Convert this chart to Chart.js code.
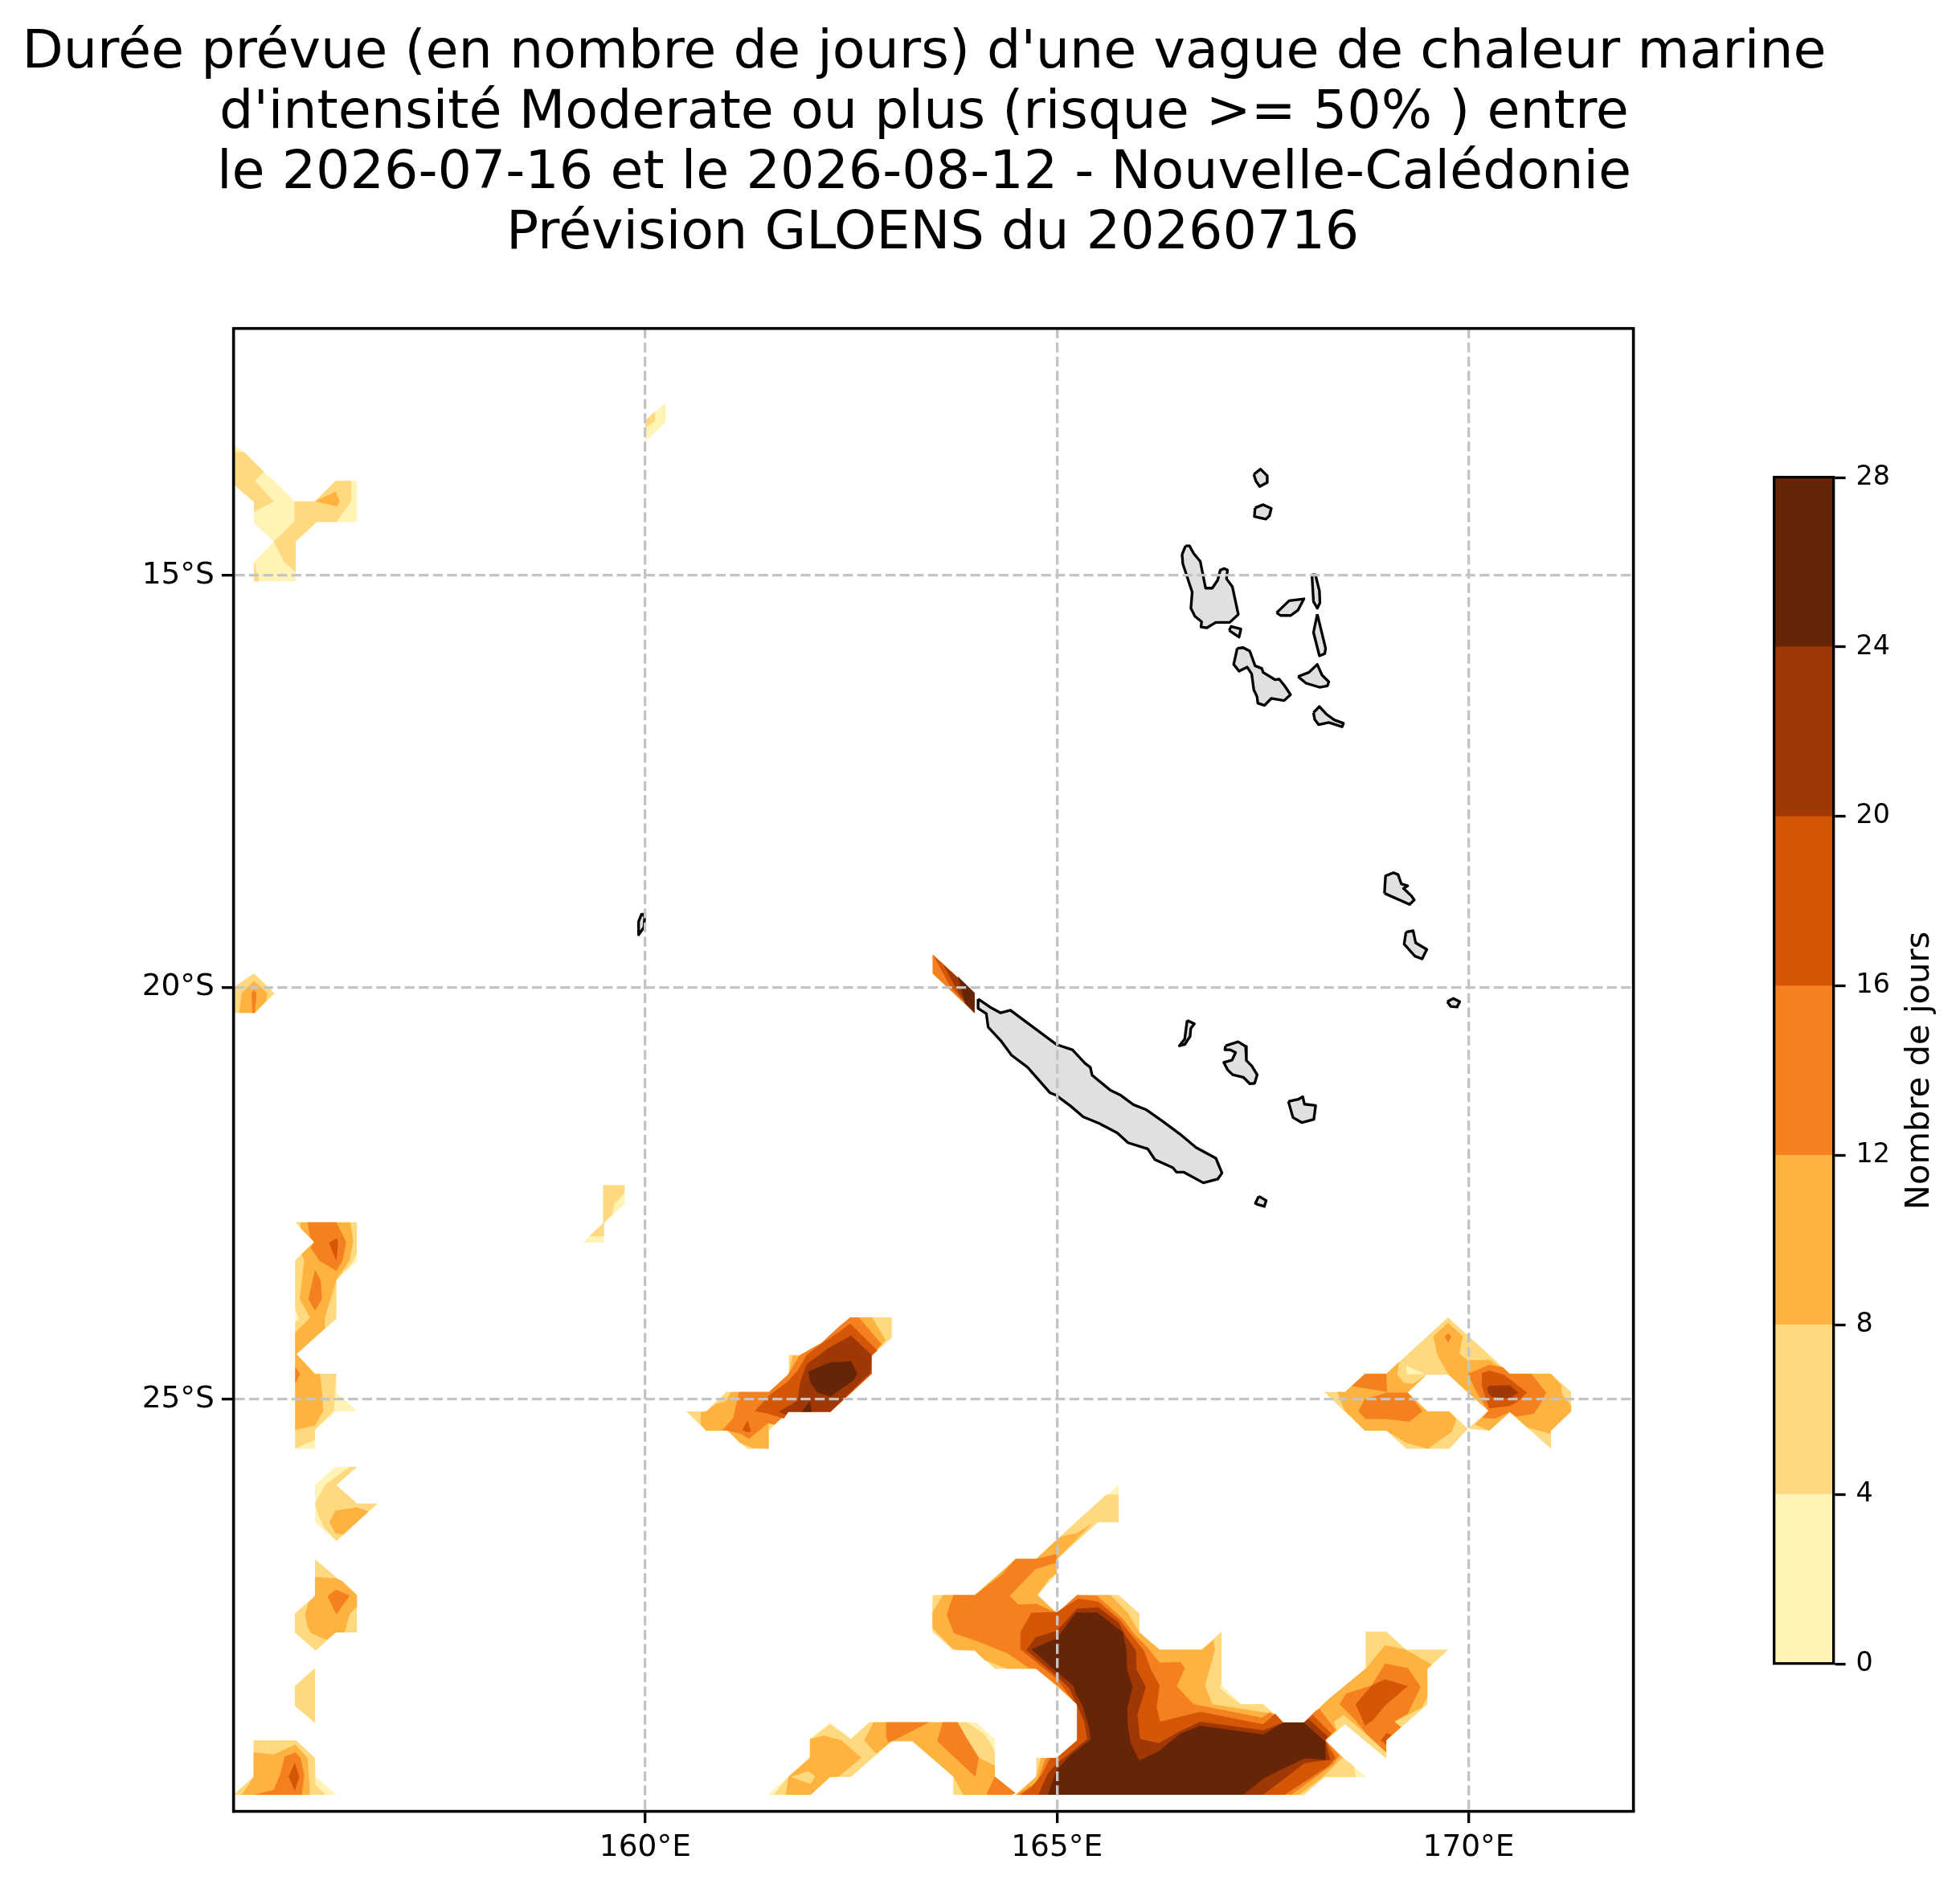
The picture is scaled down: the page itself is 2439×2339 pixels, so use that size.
<!DOCTYPE html>
<html>
<head>
<meta charset="utf-8">
<title>Vague de chaleur marine</title>
<script src="https://cdn.jsdelivr.net/npm/chart.js@4"></script>
<style>
  html, body { margin: 0; padding: 0; background: #fff; }
  canvas { position: absolute; top: 0; }
  #carte { left: 0; }
  #echelle { left: 2100px; }
</style>
</head>
<body>
<canvas id="carte" width="2300" height="2339"></canvas>
<canvas id="echelle" width="339" height="2339"></canvas>
<script>
// Titre et axes
const titleLines = [
  "Durée prévue (en nombre de jours) d'une vague de chaleur marine",
  "d'intensité Moderate ou plus (risque >= 50% ) entre",
  "le 2026-07-16 et le 2026-08-12 - Nouvelle-Calédonie",
  " Prévision GLOENS du 20260716"
];
const lonTicks = [160, 165, 170];
const lonTickLabels = ["160°E", "165°E", "170°E"];
const latTicks = [-15, -20, -25];
const latTickLabels = ["15°S", "20°S", "25°S"];
const colorbarTitle = "Nombre de jours";
const bandWidths = [4, 4, 4, 4, 4, 4, 4];
const bandColors = ["#fff3b5", "#fed97f", "#feb23f", "#f4801f", "#d55607", "#a03805", "#662506"];

// Contours [lon, lat], chaque liste contient les zones >= au seuil
const atLeast0 = [
  [[155,-13.40],[155.20,-13.57],[155.37,-13.74],[155.52,-13.88],[155.74,-14.10],[155.99,-14.10],[156.24,-13.85],[156.50,-13.85],[156.50,-14.35],[156.01,-14.35],[155.755,-14.59],[155.755,-15.07],[155.25,-15.07],[155.25,-14.83],[155.49,-14.59],[155.25,-14.36],[155.25,-14.11],[155,-13.89]],
  [[160.0,-13.12],[160.25,-12.90],[160.25,-13.14],[160.0,-13.37]],
  [[159.49,-22.40],[159.75,-22.40],[159.75,-22.63],[159.50,-22.86],[159.50,-23.10],[159.245,-23.10],[159.49,-22.86]],
  [[155.75,-22.85],[156.50,-22.85],[156.50,-23.32],[156.25,-23.55],[156.25,-24.02],[155.765,-24.45],[155.99,-24.69],[156.25,-24.69],[156.25,-24.92],[156.50,-25.14],[156.24,-25.15],[155.99,-25.37],[155.99,-25.60],[155.75,-25.60],[155.75,-23.315],[155.98,-23.09]],
  [[155.99,-26.04],[156.24,-25.82],[156.50,-25.82],[156.25,-26.04],[156.50,-26.265],[156.75,-26.265],[156.25,-26.72],[155.99,-26.49]],
  [[155,-29.80],[155.245,-29.58],[155.245,-29.14],[155.76,-29.14],[155.99,-29.35],[155.995,-29.58],[156.25,-29.80]],
  [[161.49,-29.80],[161.74,-29.577],[161.993,-29.356],[162.0,-29.122],[162.246,-28.92],[162.497,-29.122],[162.725,-28.92],[164.016,-28.92],[164.246,-29.122],[164.246,-29.577],[164.497,-29.78],[164.40,-29.80],[163.742,-29.80],[163.742,-29.577],[163.245,-29.148],[162.995,-29.148],[162.497,-29.584],[162.246,-29.584],[162.01,-29.80]],
  [[165.75,-26.04],[165.75,-26.49],[165.50,-26.49],[165.0,-26.94],[165.0,-27.11],[164.765,-27.375],[165.0,-27.60],[165.245,-27.375],[165.75,-27.375],[166.0,-27.60],[166.0,-27.83],[166.25,-28.04],[166.76,-28.04],[167.0,-27.82],[167.0,-28.47],[167.245,-28.70],[167.505,-28.70],[167.75,-28.92],[168.0,-28.92],[168.75,-28.28],[168.75,-27.82],[169.0,-27.82],[169.24,-28.04],[169.75,-28.04],[169.50,-28.27],[169.50,-28.70],[169.0,-29.14],[169.0,-29.36],[168.50,-28.945],[168.26,-29.14],[168.50,-29.37],[168.76,-29.585],[168.25,-29.585],[168.0,-29.80],[164.50,-29.80],[164.75,-29.58],[164.75,-29.35],[165.0,-29.35],[165.245,-29.14],[165.245,-28.70],[165.0,-28.49],[164.75,-28.27],[164.25,-28.27],[164.0,-28.045],[163.74,-28.045],[163.49,-27.82],[163.49,-27.375],[164.0,-27.375],[164.50,-26.94],[164.75,-26.94],[165.0,-26.70]]
];
const atLeast4 = [
  [[155,-13.50],[155.13,-13.50],[155.20,-13.57],[155.37,-13.74],[155.26,-13.85],[155.49,-14.10],[155.25,-14.23],[155.25,-14.11],[155,-13.89]],
  [[155.74,-14.10],[155.99,-14.10],[156.24,-13.85],[156.43,-13.85],[156.43,-14.10],[156.25,-14.35],[156.01,-14.35],[155.755,-14.59],[155.755,-14.96],[155.61,-14.83],[155.49,-14.59],[155.74,-14.34]],
  [[155.25,-14.83],[155.31,-15.07],[155.25,-15.07]],
  [[160.0,-13.12],[160.12,-13.01],[160.12,-13.13],[160.0,-13.21]],
  [[155,-20.0],[155.25,-19.83],[155.50,-20.07],[155.26,-20.31],[155,-20.31]],
  [[159.49,-22.40],[159.75,-22.40],[159.75,-22.495],[159.625,-22.63],[159.60,-22.755],[159.50,-22.86],[159.50,-23.02],[159.32,-23.02],[159.49,-22.86]],
  [[155.75,-22.85],[156.50,-22.85],[156.50,-23.23],[156.43,-23.36],[156.25,-23.55],[156.25,-24.02],[155.765,-24.45],[155.99,-24.69],[156.25,-24.69],[156.22,-25.14],[155.99,-25.37],[155.99,-25.49],[155.75,-25.60],[155.75,-24.06],[155.80,-24.02],[155.75,-23.91],[155.75,-23.315],[155.98,-23.09]],
  [[156.11,-26.04],[156.41,-25.82],[156.50,-25.82],[156.25,-26.04],[156.50,-26.265],[156.75,-26.265],[156.25,-26.72],[156.11,-26.57],[156.03,-26.41],[155.99,-26.265]],
  [[155.99,-26.94],[156.50,-27.375],[156.50,-27.83],[156.245,-27.83],[156.0,-28.05],[155.745,-27.83],[155.745,-27.60],[155.99,-27.385]],
  [[155.745,-28.48],[155.99,-28.26],[155.99,-28.93],[155.745,-28.72]],
  [[155,-29.80],[155.245,-29.58],[155.245,-29.14],[155.76,-29.14],[155.99,-29.35],[155.995,-29.68],[156.125,-29.80]],
  [[160.50,-25.145],[160.74,-25.145],[160.985,-24.91],[161.505,-24.91],[161.745,-24.69],[161.745,-24.46],[161.99,-24.46],[162.49,-24.005],[162.995,-24.005],[162.995,-24.25],[162.75,-24.47],[162.75,-24.69],[162.25,-25.15],[161.74,-25.15],[161.50,-25.38],[161.50,-25.60],[161.24,-25.60],[161.00,-25.38],[160.74,-25.38]],
  [[168.245,-24.91],[168.50,-24.91],[168.74,-24.69],[169.0,-24.69],[169.75,-24.005],[170.25,-24.46],[170.50,-24.69],[171.0,-24.69],[171.245,-24.91],[171.245,-25.145],[171.0,-25.38],[171.0,-25.60],[170.50,-25.155],[170.25,-25.38],[169.99,-25.355],[170.24,-25.14],[169.99,-24.916],[169.755,-24.70],[169.49,-24.70],[169.26,-24.916],[169.50,-25.145],[169.765,-25.145],[169.99,-25.355],[169.765,-25.60],[169.245,-25.60],[169.0,-25.38],[168.74,-25.38]],
  [[161.564,-29.80],[161.74,-29.577],[161.993,-29.356],[162.04,-29.10],[162.246,-28.943],[162.497,-29.122],[162.725,-28.92],[163.91,-28.92],[164.107,-29.057],[164.204,-29.187],[164.246,-29.285],[164.246,-29.577],[164.497,-29.78],[164.40,-29.80],[163.742,-29.80],[163.742,-29.577],[163.245,-29.148],[162.995,-29.148],[162.497,-29.584],[162.246,-29.584],[162.01,-29.80]],
  [[165.60,-26.157],[165.75,-26.157],[165.75,-26.49],[165.50,-26.49],[165.0,-26.94],[165.0,-27.11],[164.765,-27.375],[165.0,-27.60],[165.245,-27.375],[165.75,-27.375],[166.0,-27.60],[166.0,-27.83],[166.25,-28.04],[166.76,-28.04],[167.0,-27.82],[167.0,-28.44],[166.98,-28.51],[167.23,-28.70],[167.505,-28.70],[167.75,-28.92],[168.0,-28.92],[168.75,-28.28],[168.75,-27.82],[169.0,-27.82],[169.24,-28.04],[169.75,-28.04],[169.50,-28.27],[169.50,-28.70],[169.0,-29.14],[169.0,-29.36],[168.50,-28.945],[168.26,-29.14],[168.50,-29.37],[168.605,-29.45],[168.63,-29.585],[168.25,-29.585],[168.0,-29.80],[164.50,-29.80],[164.75,-29.58],[164.75,-29.35],[165.0,-29.35],[165.245,-29.14],[165.245,-28.70],[165.0,-28.49],[164.75,-28.27],[164.25,-28.27],[164.0,-28.045],[163.74,-28.045],[163.49,-27.82],[163.49,-27.375],[164.0,-27.375],[164.50,-26.94],[164.75,-26.94],[165.0,-26.70]]
];
const atLeast8 = [
  [[155.99,-14.10],[156.24,-13.98],[156.29,-14.10],[156.255,-14.16]],
  [[155.07,-20.31],[155.10,-20.07],[155.25,-19.92],[155.41,-20.07],[155.40,-20.16],[155.26,-20.31]],
  [[155.815,-22.85],[156.42,-22.85],[156.455,-23.08],[156.41,-23.315],[156.25,-23.55],[156.11,-24.01],[156.11,-24.14],[155.765,-24.45],[155.99,-24.69],[156.05,-24.69],[156.075,-24.90],[156.09,-25.14],[155.99,-25.32],[155.75,-25.37],[155.75,-24.19],[155.93,-24.01],[155.805,-23.78],[155.86,-23.315],[155.825,-23.24],[155.98,-23.09],[155.82,-22.93]],
  [[156.165,-26.49],[156.24,-26.35],[156.50,-26.31],[156.64,-26.36],[156.335,-26.64],[156.24,-26.63]],
  [[155.99,-27.157],[156.24,-27.17],[156.32,-27.205],[156.50,-27.375],[156.50,-27.515],[156.41,-27.61],[156.35,-27.83],[156.245,-27.83],[156.13,-27.92],[155.945,-27.84],[155.90,-27.76],[155.87,-27.61],[155.91,-27.465],[155.99,-27.385]],
  [[155.10,-29.80],[155.245,-29.58],[155.245,-29.285],[155.49,-29.31],[155.75,-29.19],[155.90,-29.35],[155.93,-29.80]],
  [[160.676,-25.155],[160.74,-25.145],[160.855,-25.056],[160.985,-25.02],[161.04,-24.91],[161.505,-24.91],[161.745,-24.69],[161.79,-24.47],[161.99,-24.46],[162.49,-24.005],[162.757,-24.005],[162.92,-24.28],[162.82,-24.397],[162.75,-24.47],[162.75,-24.69],[162.25,-25.15],[161.74,-25.15],[161.50,-25.29],[161.50,-25.60],[161.31,-25.59],[161.15,-25.53],[161.00,-25.38],[160.74,-25.38],[160.676,-25.306]],
  [[168.406,-24.91],[168.50,-24.91],[168.74,-24.69],[169.0,-24.69],[169.16,-24.54],[169.13,-24.69],[169.21,-24.80],[169.33,-24.81],[169.49,-24.70],[169.26,-24.916],[169.50,-25.145],[169.765,-25.145],[169.85,-25.24],[169.80,-25.39],[169.505,-25.60],[169.245,-25.53],[169.0,-25.38],[168.74,-25.38],[168.49,-25.13]],
  [[169.57,-24.234],[169.75,-24.07],[169.93,-24.234],[169.885,-24.445],[169.99,-24.526],[170.25,-24.517],[170.50,-24.69],[171.0,-24.69],[171.13,-24.835],[171.13,-24.93],[171.245,-25.08],[171.245,-25.145],[171.0,-25.38],[170.995,-25.42],[170.71,-25.34],[170.50,-25.155],[170.25,-25.38],[170.075,-25.306],[170.24,-25.14],[169.99,-24.916],[169.755,-24.70],[169.62,-24.46]],
  [[161.707,-29.80],[161.74,-29.584],[161.993,-29.356],[162.0,-29.122],[162.172,-29.08],[162.383,-29.138],[162.627,-29.35],[162.344,-29.584],[162.246,-29.584],[162.01,-29.80]],
  [[162.66,-29.138],[162.773,-28.92],[163.798,-28.92],[163.886,-29.09],[164.058,-29.35],[164.246,-29.447],[164.246,-29.577],[164.497,-29.78],[164.40,-29.80],[163.863,-29.80],[163.742,-29.577],[163.245,-29.148],[162.995,-29.148],[162.806,-29.30]],
  [[165.424,-26.508],[165.008,-26.937],[165.0,-27.109],[164.904,-27.18],[164.764,-27.375],[165.0,-27.596],[165.245,-27.375],[165.652,-27.375],[165.863,-27.596],[166.003,-27.83],[166.247,-28.04],[166.757,-28.04],[166.903,-27.92],[166.92,-28.035],[166.80,-28.473],[166.887,-28.70],[167.505,-28.798],[167.65,-28.814],[167.748,-28.921],[168.0,-28.921],[168.26,-29.139],[168.47,-29.344],[168.236,-29.578],[167.944,-29.80],[164.497,-29.80],[164.748,-29.58],[164.806,-29.35],[165.0,-29.35],[165.245,-29.14],[165.245,-28.70],[165.0,-28.44],[164.748,-28.27],[164.40,-28.27],[164.123,-28.165],[164.0,-28.05],[163.814,-28.045],[163.733,-28.025],[163.489,-27.775],[163.489,-27.58],[163.619,-27.375],[164.003,-27.375],[164.328,-27.093],[164.497,-26.937],[164.748,-26.937],[165.0,-26.703],[165.066,-26.66],[165.245,-26.622]],
  [[168.0,-28.921],[168.301,-28.636],[168.757,-28.262],[168.984,-27.986],[169.228,-28.035],[169.553,-28.22],[169.498,-28.272],[169.498,-28.619],[169.423,-28.749],[169.098,-28.912],[169.179,-28.977],[169.0,-29.139],[169.0,-29.285],[168.692,-29.009],[168.48,-28.83],[168.366,-28.912],[168.399,-29.025],[168.26,-29.139]]
];
const atLeast12 = [
  [[155.22,-20.07],[155.25,-20.03],[155.28,-20.07],[155.26,-20.31],[155.23,-20.31]],
  [[155.90,-22.85],[156.25,-22.85],[156.37,-23.09],[156.325,-23.315],[156.25,-23.44],[156.04,-23.315],[155.94,-23.16],[155.98,-23.09],[155.93,-23.03]],
  [[155.99,-23.43],[156.06,-23.55],[156.075,-23.78],[155.99,-23.925],[155.91,-23.78]],
  [[155.75,-24.61],[155.81,-24.69],[155.75,-24.81]],
  [[156.14,-27.39],[156.245,-27.31],[156.415,-27.38],[156.25,-27.61]],
  [[155.245,-29.80],[155.49,-29.74],[155.57,-29.545],[155.62,-29.34],[155.75,-29.285],[155.815,-29.35],[155.86,-29.56],[155.83,-29.80]],
  [[160.94,-25.37],[161.07,-25.225],[161.115,-25.014],[161.14,-24.91],[161.505,-24.91],[161.73,-24.705],[161.88,-24.46],[162.14,-24.315],[162.35,-24.12],[162.49,-24.005],[162.595,-24.005],[162.87,-24.33],[162.75,-24.47],[162.75,-24.69],[162.25,-25.15],[161.74,-25.15],[161.57,-25.306],[161.49,-25.29],[161.26,-25.48],[161.165,-25.42],[161.00,-25.38]],
  [[168.58,-24.84],[168.74,-24.69],[169.0,-24.69],[169.01,-24.91]],
  [[168.66,-25.144],[168.74,-24.998],[169.01,-24.916],[169.26,-24.916],[169.44,-25.144],[169.28,-25.27],[169.0,-25.24],[168.75,-25.24]],
  [[169.71,-24.24],[169.75,-24.195],[169.79,-24.24],[169.75,-24.315]],
  [[169.99,-24.69],[170.25,-24.58],[170.416,-24.61],[170.50,-24.69],[170.76,-24.69],[170.943,-24.916],[170.87,-25.06],[170.79,-25.176],[170.58,-25.21],[170.50,-25.154],[170.32,-25.235],[170.17,-25.225],[170.24,-25.137],[170.156,-25.014],[170.075,-24.87]],
  [[163.49,-19.598],[164.0,-20.065],[164.0,-20.312],[163.49,-19.831]],
  [[162.926,-28.92],[163.45,-28.92],[163.0,-29.148],[162.95,-29.16],[162.926,-29.09]],
  [[163.612,-28.92],[163.791,-28.92],[164.051,-29.356],[164.01,-29.584],[163.547,-29.148]],
  [[164.14,-29.80],[164.246,-29.577],[164.497,-29.78],[164.45,-29.80]],
  [[163.743,-27.375],[164.003,-27.375],[164.335,-27.125],[164.497,-26.937],[164.748,-26.937],[165.0,-26.875],[165.0,-26.98],[164.741,-27.06],[164.426,-27.385],[164.53,-27.489],[164.757,-27.483],[165.0,-27.596],[165.245,-27.375],[165.489,-27.385],[165.798,-27.661],[165.944,-27.856],[166.107,-28.019],[166.247,-28.197],[166.497,-28.188],[166.556,-28.263],[166.455,-28.484],[166.659,-28.70],[167.488,-28.863],[167.586,-28.798],[167.748,-28.921],[168.0,-28.921],[168.26,-29.139],[168.431,-29.324],[168.35,-29.432],[167.846,-29.80],[164.513,-29.80],[164.757,-29.643],[164.855,-29.383],[164.88,-29.35],[165.0,-29.35],[165.245,-29.14],[165.245,-28.70],[165.0,-28.474],[164.748,-28.27],[164.66,-28.262],[164.40,-28.084],[164.042,-27.938],[163.749,-27.84],[163.661,-27.613]],
  [[168.0,-28.921],[168.139,-28.782],[168.187,-28.756],[168.383,-29.009],[168.26,-29.139]],
  [[168.431,-28.70],[168.513,-28.57],[168.822,-28.473],[168.984,-28.207],[169.261,-28.262],[169.417,-28.489],[169.261,-28.814],[169.098,-28.912],[169.179,-28.977],[169.0,-29.139],[169.0,-29.285],[168.757,-29.058],[168.61,-28.879]]
];
const atLeast16 = [
  [[156.16,-23.10],[156.26,-23.04],[156.27,-23.11],[156.25,-23.32]],
  [[155.67,-29.58],[155.745,-29.41],[155.80,-29.58],[155.745,-29.75]],
  [[161.33,-25.144],[161.505,-24.95],[161.73,-24.786],[161.86,-24.64],[161.96,-24.46],[162.155,-24.315],[162.30,-24.22],[162.49,-24.08],[162.82,-24.406],[162.75,-24.47],[162.75,-24.69],[162.25,-25.15],[161.74,-25.15],[161.685,-25.235],[161.47,-25.167]],
  [[161.18,-25.37],[161.245,-25.25],[161.285,-25.39],[161.24,-25.40]],
  [[170.16,-24.68],[170.25,-24.65],[170.43,-24.70],[170.71,-24.916],[170.595,-25.03],[170.50,-25.08],[170.25,-25.11],[170.22,-25.03],[170.16,-24.835]],
  [[163.50,-19.61],[164.0,-20.065],[164.0,-20.312],[163.708,-19.994]],
  [[164.556,-28.035],[164.556,-27.824],[164.692,-27.59],[165.0,-27.58],[165.261,-27.418],[165.505,-27.457],[165.766,-27.678],[165.863,-27.808],[166.058,-28.051],[166.14,-28.279],[166.247,-28.474],[166.211,-28.734],[166.253,-28.912],[166.741,-28.792],[167.505,-28.944],[167.65,-28.814],[167.748,-28.921],[168.0,-28.921],[168.26,-29.139],[168.383,-29.35],[168.30,-29.448],[167.765,-29.80],[164.556,-29.80],[164.692,-29.708],[164.822,-29.546],[164.92,-29.35],[165.0,-29.35],[165.245,-29.14],[165.245,-28.70],[165.196,-28.662],[165.0,-28.393]],
  [[168.0,-28.921],[168.106,-28.83],[168.334,-29.058],[168.26,-29.139]],
  [[168.627,-28.70],[168.822,-28.473],[168.984,-28.398],[169.261,-28.48],[168.984,-28.717],[168.838,-28.895],[168.74,-28.96]],
  [[168.935,-29.139],[169.0,-29.051],[169.065,-29.074],[169.0,-29.139],[169.0,-29.194]]
];
const atLeast20 = [
  [[161.62,-25.15],[161.85,-25.014],[161.88,-24.80],[161.96,-24.575],[162.22,-24.38],[162.50,-24.225],[162.75,-24.46],[162.74,-24.67],[162.25,-25.15],[161.74,-25.15],[161.705,-25.186]],
  [[170.225,-24.87],[170.25,-24.835],[170.50,-24.83],[170.60,-24.916],[170.50,-24.99],[170.286,-24.97],[170.24,-24.93]],
  [[163.62,-19.724],[164.0,-20.065],[164.0,-20.312],[163.817,-20.09]],
  [[164.627,-28.045],[164.741,-27.889],[165.0,-27.808],[165.245,-27.541],[165.505,-27.525],[165.749,-27.71],[165.847,-27.889],[165.961,-28.051],[165.967,-28.279],[166.081,-28.49],[165.977,-28.831],[166.01,-29.123],[166.237,-29.172],[166.497,-29.026],[166.741,-28.912],[167.505,-29.016],[167.748,-28.921],[168.0,-28.921],[168.26,-29.139],[168.318,-29.376],[168.009,-29.415],[167.505,-29.80],[164.774,-29.80],[164.887,-29.546],[165.0,-29.416],[165.131,-29.318],[165.369,-29.123],[165.327,-28.896],[165.245,-28.717],[165.148,-28.506],[165.0,-28.36]],
  [[168.0,-28.921],[168.057,-28.879],[168.285,-29.09],[168.26,-29.139]]
];
const atLeast24 = [
  [[161.977,-24.666],[162.24,-24.55],[162.50,-24.536],[162.58,-24.69],[162.53,-24.77],[162.25,-24.965],[162.09,-24.916],[162.01,-24.80]],
  [[161.905,-25.15],[162.0,-25.02],[162.025,-25.15]],
  [[163.795,-19.864],[164.0,-20.065],[164.0,-20.312],[163.882,-20.189]],
  [[164.692,-28.035],[164.985,-27.905],[165.083,-27.791],[165.229,-27.587],[165.489,-27.587],[165.798,-27.824],[165.847,-28.051],[165.853,-28.279],[165.918,-28.49],[165.853,-28.766],[165.863,-28.977],[165.896,-29.172],[166.0,-29.383],[166.237,-29.27],[166.497,-29.058],[166.741,-28.961],[167.505,-29.068],[167.748,-28.921],[168.0,-28.921],[168.26,-29.155],[168.262,-29.376],[168.009,-29.357],[167.52,-29.594],[167.26,-29.80],[164.887,-29.80],[165.0,-29.497],[165.164,-29.318],[165.408,-29.13],[165.392,-28.993],[165.31,-28.717],[165.229,-28.571],[165.196,-28.474],[165.0,-28.311]]
];
// Petites poches plus faibles, entourées d'une classe supérieure
const pocketsBelow4 = [
  [[169.24,-24.59],[169.466,-24.69],[169.25,-24.70]]
];
const pocketsBelow8 = [
  [[161.765,-29.584],[161.986,-29.512],[162.064,-29.577],[162.01,-29.668]]
];

// Traits de côte [lon, lat]
const coastlines = [
  [[167.391,-13.773],[167.472,-13.708],[167.554,-13.789],[167.554,-13.87],[167.463,-13.919],[167.417,-13.854]],
  [[167.407,-14.179],[167.505,-14.14],[167.603,-14.185],[167.58,-14.276],[167.538,-14.315],[167.398,-14.283]],
  [[166.562,-14.64],[166.61,-14.64],[166.66,-14.731],[166.741,-14.829],[166.806,-15.153],[166.887,-15.153],[166.952,-15.056],[166.985,-14.933],[167.03,-14.915],[167.072,-14.933],[167.06,-15.04],[167.131,-15.137],[167.203,-15.472],[167.098,-15.569],[166.93,-15.569],[166.822,-15.634],[166.75,-15.624],[166.757,-15.56],[166.676,-15.495],[166.627,-15.397],[166.643,-15.202],[166.53,-14.861],[166.52,-14.747]],
  [[167.092,-15.667],[167.115,-15.618],[167.235,-15.65],[167.212,-15.748]],
  [[167.19,-15.884],[167.261,-15.875],[167.342,-15.917],[167.407,-16.096],[167.489,-16.128],[167.505,-16.177],[167.651,-16.265],[167.70,-16.258],[167.765,-16.339],[167.837,-16.446],[167.759,-16.518],[167.603,-16.492],[167.521,-16.576],[167.44,-16.55],[167.43,-16.469],[167.391,-16.388],[167.365,-16.193],[167.31,-16.112],[167.212,-16.161],[167.147,-16.079]],
  [[167.668,-15.452],[167.82,-15.306],[168.0,-15.283],[167.928,-15.42],[167.84,-15.485],[167.716,-15.485]],
  [[168.097,-14.991],[168.139,-14.991],[168.188,-15.186],[168.194,-15.332],[168.162,-15.397],[168.116,-15.316]],
  [[168.162,-15.469],[168.263,-15.884],[168.253,-15.949],[168.188,-15.975],[168.116,-15.69]],
  [[167.928,-16.226],[168.058,-16.177],[168.162,-16.079],[168.22,-16.209],[168.302,-16.29],[168.285,-16.339],[168.188,-16.356],[168.025,-16.307]],
  [[168.116,-16.664],[168.188,-16.59],[168.269,-16.68],[168.367,-16.752],[168.48,-16.794],[168.464,-16.836],[168.302,-16.784],[168.178,-16.81],[168.13,-16.745]],
  [[168.978,-18.857],[168.991,-18.646],[169.087,-18.607],[169.143,-18.63],[169.183,-18.743],[169.26,-18.766],[169.209,-18.798],[169.305,-18.889],[169.34,-18.938],[169.283,-18.993]],
  [[169.239,-19.328],[169.326,-19.312],[169.357,-19.458],[169.492,-19.539],[169.435,-19.653],[169.348,-19.62],[169.217,-19.474]],
  [[169.74,-20.173],[169.814,-20.134],[169.892,-20.173],[169.858,-20.238],[169.784,-20.231]],
  [[164.043,-20.14],[164.187,-20.238],[164.317,-20.309],[164.435,-20.277],[164.622,-20.416],[164.993,-20.692],[165.189,-20.757],[165.341,-20.92],[165.406,-20.969],[165.428,-21.066],[165.646,-21.245],[165.777,-21.31],[165.929,-21.423],[166.081,-21.482],[166.299,-21.635],[166.495,-21.781],[166.691,-21.943],[166.93,-22.073],[167.005,-22.252],[166.953,-22.326],[166.778,-22.372],[166.539,-22.242],[166.452,-22.242],[166.408,-22.187],[166.19,-22.09],[166.103,-21.96],[165.864,-21.885],[165.733,-21.765],[165.515,-21.651],[165.319,-21.57],[165.167,-21.44],[164.993,-21.31],[164.914,-21.277],[164.644,-20.969],[164.448,-20.822],[164.317,-20.644],[164.165,-20.481],[164.143,-20.319],[164.043,-20.254]],
  [[166.582,-20.40],[166.669,-20.442],[166.626,-20.497],[166.617,-20.595],[166.552,-20.692],[166.486,-20.709],[166.552,-20.627],[166.569,-20.497]],
  [[167.048,-20.709],[167.201,-20.66],[167.292,-20.715],[167.301,-20.887],[167.366,-20.952],[167.432,-21.06],[167.401,-21.163],[167.344,-21.17],[167.266,-21.092],[167.135,-21.06],[167.074,-21.001],[167.026,-20.91],[167.127,-20.881],[167.17,-20.79],[167.105,-20.757],[167.04,-20.757]],
  [[167.811,-21.384],[167.932,-21.358],[167.985,-21.326],[168.007,-21.417],[168.142,-21.433],[168.12,-21.602],[167.976,-21.641],[167.867,-21.579]],
  [[167.453,-22.535],[167.541,-22.587],[167.519,-22.658],[167.432,-22.632],[167.41,-22.619]],
  [[159.96,-19.10],[159.995,-19.14],[159.985,-19.27],[159.92,-19.36],[159.92,-19.20]]
];

const FONT = "'DejaVu Sans'";
const LINE_W = 3.33;

// Un anneau ferme devient un dataset scatter rempli
function anneau(points, fond, contour) {
  const data = points.concat([points[0]]).map(p => ({ x: p[0], y: p[1] }));
  return {
    data: data,
    showLine: true,
    fill: 'shape',
    tension: 0,
    pointRadius: 0,
    backgroundColor: fond,
    borderColor: contour || fond,
    borderWidth: contour ? LINE_W : 0,
    borderJoinStyle: 'round'
  };
}

// Chart.js dessine le premier dataset en dernier : côtes d'abord, classes foncées ensuite
let datasets = [];
coastlines.forEach(c => datasets.push(anneau(c, '#e0e0e0', '#000')));
pocketsBelow4.forEach(c => datasets.push(anneau(c, bandColors[0])));
pocketsBelow8.forEach(c => datasets.push(anneau(c, bandColors[1])));
const classes = [atLeast0, atLeast4, atLeast8, atLeast12, atLeast16, atLeast20, atLeast24];
for (let i = classes.length - 1; i >= 0; i--) {
  classes[i].forEach(c => datasets.push(anneau(c, bandColors[i])));
}

const cadre = { color: '#000', width: LINE_W, z: 2 };

new Chart(document.getElementById('carte'), {
  type: 'scatter',
  data: { datasets: datasets },
  options: {
    responsive: false,
    animation: false,
    devicePixelRatio: 1,
    events: [],
    layout: { padding: 0 },
    plugins: {
      legend: { display: false },
      tooltip: { enabled: false },
      title: {
        display: true,
        text: titleLines,
        color: '#000',
        font: { family: FONT, size: 66.7, weight: 'normal', lineHeight: 1.125 },
        padding: { top: 29, bottom: 79.4 }
      }
    },
    scales: {
      x: {
        type: 'linear', min: 155, max: 172,
        afterBuildTicks: axis => { axis.ticks = lonTicks.map(v => ({ value: v })); },
        afterFit: axis => { axis.height = 85.5; },
        ticks: { color: '#000', font: { family: FONT, size: 37.5 }, padding: 9, maxRotation: 0, autoSkip: false,
          callback: (v, i) => lonTickLabels[i] },
        grid: { color: '#c4c4c4', lineWidth: LINE_W, z: 1, tickColor: '#000', tickWidth: LINE_W, tickLength: 14.6, tickBorderDash: [] },
        border: { ...cadre, dash: [12.3, 5.3] }
      },
      y: {
        type: 'linear', min: -30, max: -12,
        afterBuildTicks: axis => { axis.ticks = latTicks.map(v => ({ value: v })); },
        afterFit: axis => { axis.width = 290.5; },
        ticks: { color: '#000', font: { family: FONT, size: 37.5 }, padding: 9, autoSkip: false,
          callback: (v, i) => latTickLabels[i] },
        grid: { color: '#c4c4c4', lineWidth: LINE_W, z: 1, tickColor: '#000', tickWidth: LINE_W, tickLength: 14.6, tickBorderDash: [] },
        border: { ...cadre, dash: [12.3, 5.3] }
      },
      xHaut: {
        type: 'linear', position: 'top', min: 155, max: 172,
        afterFit: axis => { axis.height = 0; },
        ticks: { display: false }, grid: { display: false }, border: cadre
      },
      yDroite: {
        type: 'linear', position: 'right', min: -30, max: -12,
        afterFit: axis => { axis.width = 267.5; },
        ticks: { display: false }, grid: { display: false }, border: cadre
      }
    }
  },
  plugins: [{
    // bordures gauche et bas en trait plein, le pointillé ne vaut que pour la grille
    id: 'cadrePlein',
    afterDraw(chart) {
      const a = chart.chartArea, ctx = chart.ctx;
      ctx.save();
      ctx.strokeStyle = '#000';
      ctx.lineWidth = LINE_W;
      ctx.strokeRect(a.left, a.top, a.right - a.left, a.bottom - a.top);
      ctx.restore();
    }
  }]
});

// Échelle de couleurs
new Chart(document.getElementById('echelle'), {
  type: 'bar',
  data: {
    labels: [''],
    datasets: bandWidths.map((v, i) => ({
      data: [v], backgroundColor: bandColors[i], borderWidth: 0,
      barPercentage: 1, categoryPercentage: 1
    }))
  },
  options: {
    responsive: false,
    animation: false,
    devicePixelRatio: 1,
    events: [],
    layout: { padding: { top: 594, bottom: 269, left: 108 } },
    plugins: { legend: { display: false }, tooltip: { enabled: false } },
    scales: {
      x: {
        stacked: true,
        afterFit: axis => { axis.height = 0; },
        ticks: { display: false }, grid: { display: false }, border: cadre
      },
      xHaut: {
        type: 'category', labels: [''], position: 'top',
        afterFit: axis => { axis.height = 0; },
        ticks: { display: false }, grid: { display: false }, border: cadre
      },
      y: {
        stacked: true, position: 'right', min: 0, max: 28,
        afterFit: axis => { axis.width = 157; },
        ticks: { stepSize: 4, color: '#000', font: { family: FONT, size: 33.3 }, padding: 13 },
        grid: { drawOnChartArea: false, color: '#000', tickColor: '#000', tickWidth: LINE_W, tickLength: 14.6 },
        border: cadre
      },
      yGauche: {
        position: 'left', min: 0, max: 28,
        afterFit: axis => { axis.width = 0; },
        ticks: { display: false }, grid: { display: false }, border: cadre
      }
    }
  },
  plugins: [{
    id: 'titreEchelle',
    afterDraw(chart) {
      const ctx = chart.ctx;
      ctx.save();
      ctx.translate(289.5, (chart.chartArea.top + chart.chartArea.bottom) / 2);
      ctx.rotate(-Math.PI / 2);
      ctx.font = "41.7px " + FONT;
      ctx.fillStyle = '#000';
      ctx.textAlign = 'center';
      ctx.textBaseline = 'middle';
      ctx.fillText(colorbarTitle, 0, 0);
      ctx.restore();
    }
  }]
});
</script>
</body>
</html>
